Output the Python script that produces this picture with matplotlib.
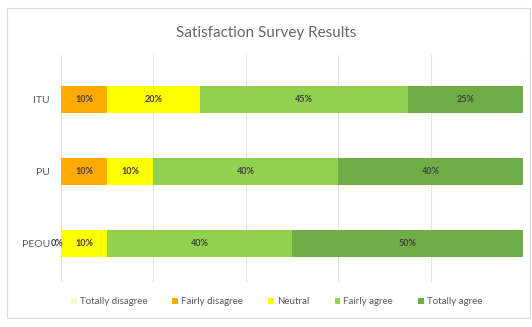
import matplotlib
matplotlib.use("Agg")
import matplotlib.pyplot as plt
from matplotlib.patches import Rectangle

plt.rcParams['font.family'] = ['Lato', 'DejaVu Sans']

categories = ["ITU", "PU", "PEOU"]
series_names = ["Totally disagree", "Fairly disagree", "Neutral", "Fairly agree", "Totally agree"]
totally_disagree = [0, 0, 0]
fairly_disagree = [10, 10, 0]
neutral = [20, 10, 10]
fairly_agree = [45, 40, 40]
totally_agree = [25, 40, 50]
show_zero_label = [[False, False, False], [False, False, True], [False]*3, [False]*3, [False]*3]
colors = ["#FFF5CC", "#FFAA00", "#FFFF00", "#92D050", "#70AD47"]
xticks = [0, 20, 40, 60, 80, 100]

series = [totally_disagree, fairly_disagree, neutral, fairly_agree, totally_agree]

fig = plt.figure(figsize=(5.32, 3.27), dpi=100)
fig.patches.append(Rectangle((7/532, 1-318/327), 523/532, 310/327, transform=fig.transFigure,
                             fill=False, edgecolor="#D9D9D9", linewidth=0.8))
ax = fig.add_axes([61/532, 1-282/327, 462/532, 227/327])

ypos = list(range(len(categories)))
left = [0]*len(categories)
for i, (name, vals, c) in enumerate(zip(series_names, series, colors)):
    ax.barh(ypos, vals, left=left, height=0.375, color=c, label=name, zorder=2)
    for j, v in enumerate(vals):
        if v > 0 or show_zero_label[i][j]:
            xc = left[j] + v/2
            if v == 0:
                xc = left[j] - 0.8
            ax.text(xc, ypos[j], f"{v}%", ha="center", va="center", fontsize=6.5,
                    color="#404040", fontweight="bold", zorder=3)
    left = [l + v for l, v in zip(left, vals)]

ax.set_xlim(0, 100)
ax.set_ylim(2.535, -0.618)
ax.set_xticks(xticks)
ax.set_xticklabels([])
ax.tick_params(axis="x", length=0)
ax.set_yticks(ypos)
ax.set_yticklabels(categories, fontsize=7.5, color="#595959")
ax.tick_params(axis="y", length=0, pad=8)
ax.grid(axis="x", color="#E5E5E5", linewidth=0.8, zorder=0)
for s in ax.spines.values():
    s.set_visible(False)

fig.text(0.5, 1-33/327, "Satisfaction Survey Results", ha="center", va="center",
         fontsize=11, color="#666666")

handles, labels = ax.get_legend_handles_labels()
fig.legend(handles, labels, loc="center", bbox_to_anchor=(0.52, 1-302/327), ncol=5,
           frameon=False, fontsize=7, handlelength=0.6, handleheight=0.6,
           handletextpad=0.3, columnspacing=2.6, labelcolor="#595959")

fig.savefig("out.png", dpi=100)
